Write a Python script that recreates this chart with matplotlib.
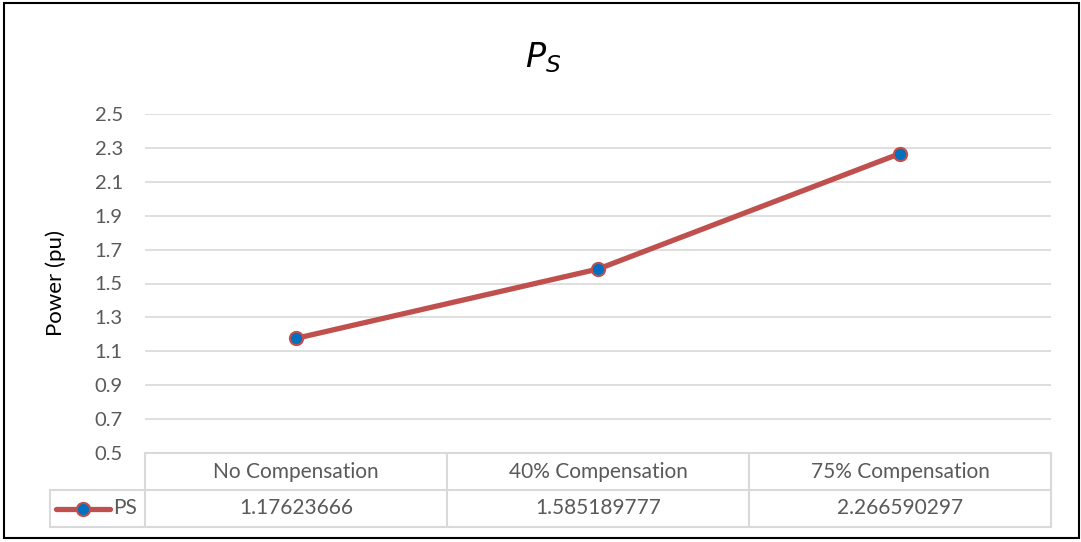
import matplotlib
matplotlib.use("Agg")
import matplotlib.pyplot as plt
from matplotlib.patches import Rectangle

categories = ["No Compensation", "40% Compensation", "75% Compensation"]
ps_values = [1.17623666, 1.585189777, 2.266590297]
ps_labels = ["1.17623666", "1.585189777", "2.266590297"]
series_name = "PS"
y_ticks = [0.5, 0.7, 0.9, 1.1, 1.3, 1.5, 1.7, 1.9, 2.1, 2.3, 2.5]

LINE = "#C0504D"
MARK = "#0070C0"
GRID = "#D9D9D9"
TXT = "#595959"

plt.rcParams["font.family"] = ["Lato", "DejaVu Sans"]

W, H = 1081, 542
fig = plt.figure(figsize=(W / 100, H / 100), dpi=100)


def px_box(x0, y0, x1, y1):
    return [x0 / W, 1 - y1 / H, (x1 - x0) / W, (y1 - y0) / H]


# plot area
ax = fig.add_axes(px_box(145, 114, 1051, 453))
x = list(range(len(categories)))
ax.plot(x, ps_values, color=LINE, lw=3.8, marker="o", ms=9.5,
        mfc=MARK, mec=LINE, mew=1.5, solid_capstyle="round", zorder=3)
ax.set_xlim(-0.5, len(categories) - 0.5)
ax.set_ylim(y_ticks[0], y_ticks[-1])
ax.set_yticks(y_ticks)
ax.set_yticklabels([f"{t:.1f}" for t in y_ticks])
ax.set_xticks([])
ax.grid(axis="y", color=GRID, lw=1.2)
ax.set_axisbelow(True)
for s in ax.spines.values():
    s.set_visible(False)
ax.tick_params(axis="y", length=0, pad=16, labelsize=14.5, labelcolor=TXT)
ax.set_ylabel("Power (pu)", fontsize=16, color="black")
ax.yaxis.set_label_coords(-79 / 906, 0.5)

fig.text(543 / W, 1 - 58 / H, r"$\mathit{P}_{\mathit{S}}$", fontsize=24,
         ha="center", va="center")

# data table under the plot
tab = fig.add_axes(px_box(50, 453, 1051, 527))
left = -0.5 - 95 / 302
tab.set_xlim(left, len(categories) - 0.5)
tab.set_ylim(0, 2)
tab.axis("off")
kw = dict(color=GRID, lw=1.5, clip_on=False)
tab.plot([-0.5, len(categories) - 0.5], [2, 2], **kw)
tab.plot([left, len(categories) - 0.5], [1, 1], **kw)
tab.plot([left, len(categories) - 0.5], [0, 0], **kw)
tab.plot([left, left], [0, 1], **kw)
for i in range(len(categories) + 1):
    tab.plot([i - 0.5, i - 0.5], [0, 2], **kw)
for i, (c, v) in enumerate(zip(categories, ps_labels)):
    tab.text(i, 1.5, c, ha="center", va="center", fontsize=15, color=TXT)
    tab.text(i, 0.5, v, ha="center", va="center", fontsize=15, color=TXT)
# legend key in the first cell
lx0 = left + 6 / 302
lx1 = left + 60 / 302
tab.plot([lx0, lx1], [0.5, 0.5], color=LINE, lw=3.8, solid_capstyle="round")
tab.plot([(lx0 + lx1) / 2], [0.5], marker="o", ms=9.5, mfc=MARK, mec=LINE, mew=1.5)
tab.text(-0.5 - 8 / 302, 0.5, series_name, ha="right", va="center",
         fontsize=15, color=TXT)

# chart border
fig.patches.append(Rectangle((4 / W, 1 - 538 / H), 1075 / W, 535 / H,
                             transform=fig.transFigure, fill=False,
                             ec="black", lw=1.5))

fig.savefig("out.png", dpi=100)
